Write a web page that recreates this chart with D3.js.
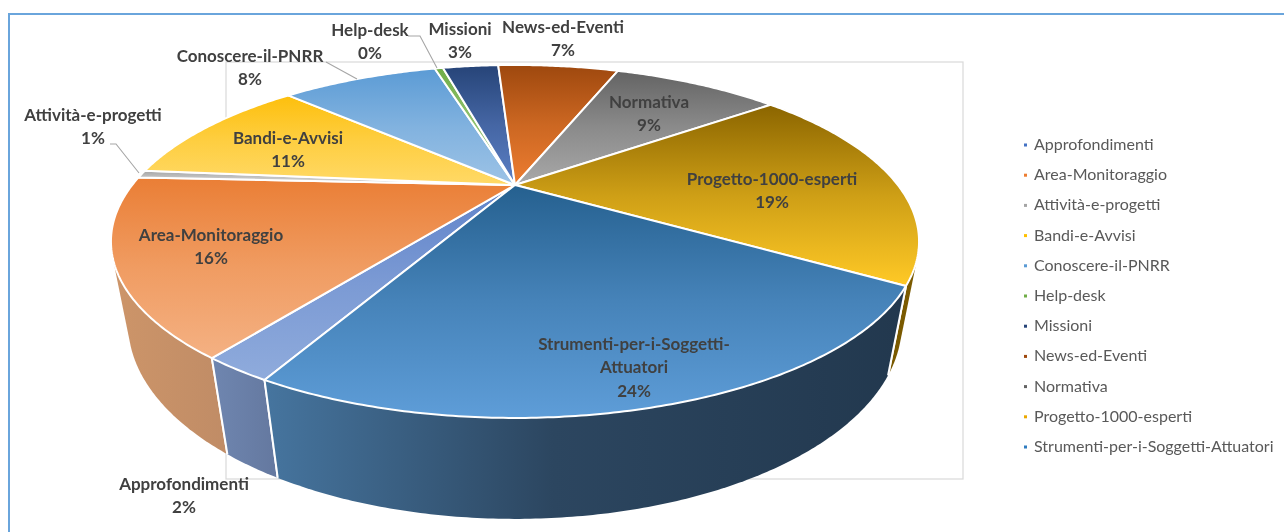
<!DOCTYPE html>
<html>
<head>
<meta charset="utf-8">
<script src="https://cdn.jsdelivr.net/npm/d3@7"></script>
<style>
body { margin: 0; background: #fff; overflow: hidden; }
svg { display: block; font-family: Lato, "Open Sans", sans-serif; filter: blur(0.35px); }
</style>
</head>
<body>
<div id="container"></div>
<script>
// values in percent
let categories = ['Approfondimenti', 'Area-Monitoraggio', 'Attività-e-progetti', 'Bandi-e-Avvisi',
    'Conoscere-il-PNRR', 'Help-desk', 'Missioni', 'News-ed-Eventi', 'Normativa',
    'Progetto-1000-esperti', 'Strumenti-per-i-Soggetti-Attuatori'];
let values = [2.2, 15.8, 0.7, 10.65, 8.45, 0.45, 3.05, 6.6, 9.0, 19.2, 23.9];

let topDark = ['#5f82c9', '#ea7e35', '#a5a5a5', '#fdbf0c', '#5b9bd5', '#70ad47', '#264478', '#9e480e', '#636363', '#8b6500', '#25608f'];
let topLight = ['#8fabdc', '#f4b183', '#dbdbdb', '#ffd966', '#9dc3e6', '#a9d18e', '#5b7fc4', '#ed7d31', '#a8a8a8', '#ffc926', '#5e9dd8'];
let wallLeft = ['#6f86b0', '#cd9569', '#8a8a8a', '#b08a2a', '#4a7ba8', '#5a8a3a', '#1e3560', '#7e390b', '#505050', '#6b4e00', '#46759f'];
let wallRight = ['#64789f', '#c08c66', '#8a8a8a', '#b08a2a', '#4a7ba8', '#5a8a3a', '#1e3560', '#7e390b', '#505050', '#7c5b00', '#22384e'];
let legendColors = ['#4472c4', '#ed7d31', '#a5a5a5', '#ffc000', '#5b9bd5', '#70ad47', '#264478', '#9e480e', '#636363', '#eba800', '#2f7cc0'];

// label lines and anchor (centre x, first baseline y) for each slice
let labelLines = [['Approfondimenti'], ['Area-Monitoraggio'], ['Attività-e-progetti'], ['Bandi-e-Avvisi'],
    ['Conoscere-il-PNRR'], ['Help-desk'], ['Missioni'], ['News-ed-Eventi'], ['Normativa'],
    ['Progetto-1000-esperti'], ['Strumenti-per-i-Soggetti-', 'Attuatori']];
let labelX = [184, 211, 93, 288, 250, 370, 460, 563, 649, 772, 634];
let labelY = [490, 241, 121, 144, 62, 36, 35, 33, 108, 185, 350];

let width = 1284, height = 532;
let svg = d3.select('#container').append('svg').attr('width', width).attr('height', height);
let defs = svg.append('defs');

// perspective disc: centre of the pie in the picture, and camera terms
let cx = 515, cy = 185, a = 382.8, b = 158.4, k = 0.32;
let depthW = 0.04, depthE = 82;

function project(theta, r, bottom) {
    let u = r * Math.sin(theta), v = -r * Math.cos(theta);
    let w = 1 - k * v + (bottom ? depthW : 0);
    return [cx + a * u / w, cy + (b * v + (bottom ? depthE : 0)) / w];
}

let pie = d3.pie().sort(null).value(d => d)
    .startAngle(208 * Math.PI / 180).endAngle(568 * Math.PI / 180);
let arcs = pie(values);
let line = d3.line();

function rim(d, bottom) {
    let n = Math.max(2, Math.ceil((d.endAngle - d.startAngle) / 0.01));
    return d3.range(n + 1).map(i => project(d.startAngle + (d.endAngle - d.startAngle) * i / n, 1, bottom));
}

function gradient(id, stops, horizontal) {
    let g = defs.append('linearGradient').attr('id', id)
        .attr('x1', 0).attr('y1', 0)
        .attr('x2', horizontal ? 1 : 0).attr('y2', horizontal ? 0 : 1);
    stops.forEach(s => g.append('stop').attr('offset', s[0]).attr('stop-color', s[1]));
}
arcs.forEach((d, i) => {
    // excel's gradient brightens a little quicker than a straight blend
    let mid = d3.interpolateRgb(topDark[i], topLight[i])(0.58);
    gradient('top' + i, [[0, topDark[i]], [0.5, mid], [1, topLight[i]]], false);
    let wallStops = [[0, wallLeft[i]], [1, wallRight[i]]];
    if (i == 10)
        wallStops = [[0, wallLeft[i]], [0.45, '#2c4660'], [1, wallRight[i]]];
    gradient('wall' + i, wallStops, true);
});

// frame
svg.append('path')
    .attr('d', `M${width},14H9V${height}`)
    .attr('fill', 'none').attr('stroke', '#6aa5dc').attr('stroke-width', 2);

// plot area box
svg.append('rect')
    .attr('x', 226).attr('y', 62).attr('width', 737).attr('height', 417)
    .attr('fill', '#fff').attr('stroke', '#d9d9d9').attr('stroke-width', 1.2);

// side walls, back to front; the hull brings in the tangent edge at the silhouette
let order = arcs.map((d, i) => i)
    .sort((p, q) => -Math.cos((arcs[p].startAngle + arcs[p].endAngle) / 2) + Math.cos((arcs[q].startAngle + arcs[q].endAngle) / 2));
let walls = svg.append('g');
order.forEach(i => {
    let d = arcs[i];
    let pts = d3.polygonHull(rim(d, false).concat(rim(d, true)));
    walls.append('path')
        .attr('d', line(pts) + 'Z')
        .attr('fill', `url(#wall${i})`);
    [d.startAngle, d.endAngle].forEach(t => {
        walls.append('path')
            .attr('d', line([project(t, 1, false), project(t, 1, true)]))
            .attr('stroke', '#fff').attr('stroke-width', 2);
    });
});

// top of the pie
svg.append('g').selectAll('path')
    .data(arcs)
    .enter().append('path')
    .attr('d', d => line([project(0, 0, false)].concat(rim(d, false))) + 'Z')
    .attr('fill', (d, i) => `url(#top${i})`)
    .attr('stroke', '#fff')
    .attr('stroke-width', 2)
    .attr('stroke-linejoin', 'round');

// leader lines
let leaders = [
    [[326, 62], [357, 79]],
    [[408, 36], [420, 36], [437, 68]],
    [[110, 144], [116, 144], [139, 173]]
];
svg.append('g').selectAll('path')
    .data(leaders)
    .enter().append('path')
    .attr('d', d => line(d))
    .attr('fill', 'none').attr('stroke', '#a6a6a6').attr('stroke-width', 1.1);

// data labels
let labels = svg.append('g')
    .attr('font-weight', 700).attr('font-size', 17)
    .attr('fill', '#404040').attr('text-anchor', 'middle');
arcs.forEach((d, i) => {
    let lines = labelLines[i].concat([Math.round(d.value) + '%']);
    lines.forEach((t, j) => {
        labels.append('text')
            .attr('x', labelX[i])
            .attr('y', labelY[i] + j * 23.3)
            .text(t);
    });
});

// legend
let legendY = d3.scalePoint().domain(categories).range([145, 447]);
let legend = svg.append('g').selectAll('g')
    .data(categories)
    .enter().append('g')
    .attr('transform', d => `translate(0,${legendY(d)})`);
legend.append('rect')
    .attr('x', 1024).attr('y', -1.5).attr('width', 3).attr('height', 3)
    .attr('fill', (d, i) => legendColors[i]);
legend.append('text')
    .attr('x', 1034).attr('y', 5)
    .attr('font-size', 16).attr('fill', '#595959')
    .text(d => d);
</script>
</body>
</html>
